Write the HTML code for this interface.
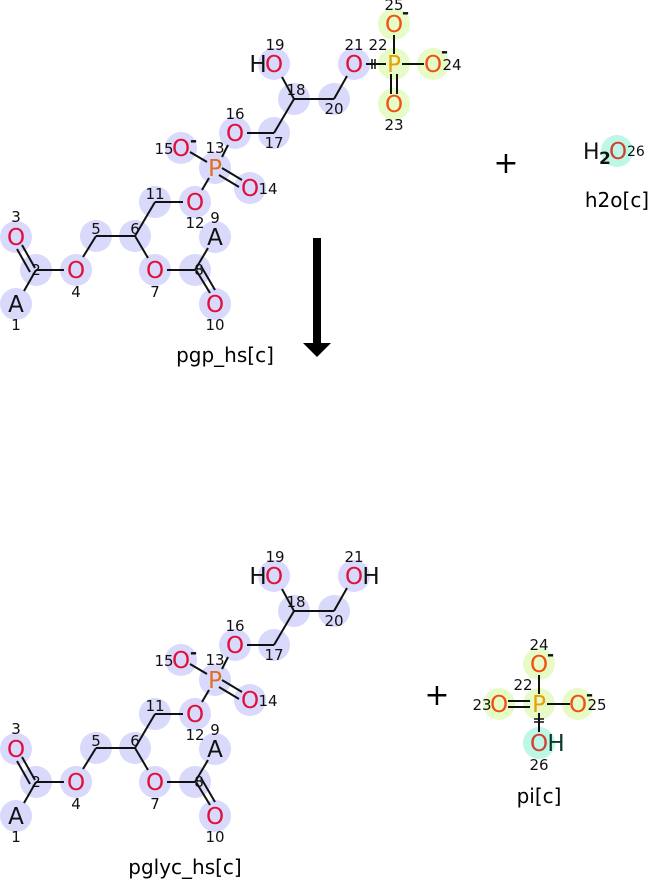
<!DOCTYPE html>
<html><head><meta charset="utf-8"><style>
html,body{margin:0;padding:0;background:#fff}
svg{display:block}
text{font-family:"DejaVu Sans","Liberation Sans",sans-serif}
.a{font-size:23px;text-anchor:middle}
.n{font-size:15px;text-anchor:middle;fill:#111}
.o{fill:#e0103a}.og{fill:#f05010}.p{fill:#e07020}.pg{fill:#e8a000}
.b{stroke:#111;stroke-width:2;fill:none}
.c{fill:#d8d9fb}.g{fill:#e6fbc6}.t{fill:#bdf7e6}
.lbl{font-size:20px;text-anchor:middle;fill:#000}
</style></head><body>
<svg width="648" height="879" viewBox="0 0 648 879" xmlns="http://www.w3.org/2000/svg">
<g id="top">
<g>
<circle class="c" cx="16" cy="304" r="16"/><circle class="c" cx="36" cy="270" r="16"/><circle class="c" cx="16" cy="237" r="16"/>
<circle class="c" cx="76" cy="270" r="16"/><circle class="c" cx="96" cy="236" r="16"/><circle class="c" cx="135" cy="236" r="16"/>
<circle class="c" cx="155" cy="270" r="16"/><circle class="c" cx="195" cy="270" r="16"/><circle class="c" cx="215" cy="237" r="16"/>
<circle class="c" cx="215" cy="304" r="16"/><circle class="c" cx="155" cy="202" r="16"/><circle class="c" cx="195" cy="202" r="16"/>
<circle class="c" cx="215" cy="168" r="16"/><circle class="c" cx="250" cy="188" r="16"/><circle class="c" cx="181" cy="148" r="16"/>
<circle class="c" cx="235" cy="133" r="16"/><circle class="c" cx="274" cy="133" r="16"/><circle class="c" cx="294" cy="99" r="16"/>
<circle class="c" cx="274" cy="64" r="16"/><circle class="c" cx="334" cy="99" r="16"/><circle class="c" cx="354" cy="64" r="16"/>
</g>
<g class="b">
<line x1="24" y1="291" x2="36" y2="270"/><line x1="36" y1="270" x2="64" y2="270"/>
<line x1="22" y1="245" x2="35" y2="268"/><line x1="17" y1="249" x2="30" y2="272"/>
<line x1="83" y1="257" x2="96" y2="236"/><line x1="96" y1="236" x2="135" y2="236"/>
<line x1="135" y1="236" x2="148" y2="258"/><line x1="135" y1="236" x2="155" y2="202"/>
<line x1="167" y1="270" x2="195" y2="270"/><line x1="195" y1="270" x2="208" y2="248"/>
<line x1="196" y1="270" x2="210" y2="293"/><line x1="201" y1="266" x2="215" y2="290"/>
<line x1="155" y1="202" x2="183" y2="202"/><line x1="202" y1="190" x2="209" y2="178"/>
<line x1="190" y1="152" x2="207" y2="162"/><line x1="222" y1="168" x2="242" y2="180"/><line x1="219" y1="175" x2="239" y2="187"/>
<line x1="222" y1="157" x2="228" y2="145"/><line x1="247" y1="133" x2="274" y2="133"/>
<line x1="274" y1="133" x2="294" y2="99"/><line x1="294" y1="99" x2="282" y2="77"/><line x1="294" y1="99" x2="334" y2="99"/>
<line x1="334" y1="99" x2="347" y2="76"/>
</g>
<text class="a" x="16" y="312" fill="#111">A</text><text class="a o" x="16" y="245">O</text>
<text class="a o" x="76" y="278">O</text><text class="a o" x="155" y="278">O</text>
<text class="a" x="215" y="245" fill="#111">A</text><text class="a o" x="215" y="312">O</text>
<text class="a o" x="195" y="210">O</text><text class="a p" x="215" y="176">P</text>
<text class="a o" x="250" y="196">O</text><text class="a o" x="181" y="156">O</text>
<text class="a o" x="235" y="141">O</text>
<text class="n" x="16" y="222">3</text><text class="n" x="16" y="330">1</text><text class="n" x="36" y="275">2</text>
<text class="n" x="76" y="297">4</text><text class="n" x="96" y="234">5</text><text class="n" x="135" y="234">6</text>
<text class="n" x="155" y="297">7</text><text class="n" x="199" y="275">8</text><text class="n" x="215" y="223">9</text>
<text class="n" x="215" y="330">10</text><text class="n" x="155" y="199">11</text><text class="n" x="195" y="228">12</text>
<text class="n" x="215" y="153">13</text><text class="n" x="268" y="194">14</text><text class="n" x="164" y="154">15</text>
<text class="n" x="235" y="119">16</text><text class="n" x="274" y="148">17</text><text class="n" x="296" y="95">18</text>
<text class="n" x="275" y="50">19</text><text class="n" x="334" y="114">20</text><text class="n" x="354" y="50">21</text>
<text x="190" y="146" style="font-size:17px;font-weight:bold" fill="#111">-</text>
</g>
<text class="a" x="258" y="72" fill="#111">H</text><text class="a o" x="274" y="72">O</text>
<text class="a o" x="354" y="72">O</text>
<circle class="g" cx="394" cy="64" r="16"/><circle class="g" cx="394" cy="104" r="16"/><circle class="g" cx="433" cy="64" r="16"/><circle class="g" cx="394" cy="24" r="16"/>
<g class="b">
<line x1="366" y1="64" x2="386" y2="64"/><line x1="372" y1="59" x2="372" y2="69" stroke-width="1.5"/><line x1="375" y1="59" x2="375" y2="69" stroke-width="1.5"/>
<line x1="402" y1="64" x2="424" y2="64"/><line x1="394" y1="35" x2="394" y2="54"/>
<line x1="391" y1="74" x2="391" y2="94"/><line x1="397" y1="74" x2="397" y2="94"/>
</g>
<text class="a pg" x="394" y="72">P</text><text class="a og" x="394" y="112">O</text><text class="a og" x="433" y="72">O</text><text class="a og" x="394" y="32">O</text>
<text class="n" x="378" y="50">22</text><text class="n" x="394" y="130">23</text><text class="n" x="452" y="70">24</text><text class="n" x="394" y="10">25</text>
<text x="402" y="18" style="font-size:17px;font-weight:bold" fill="#111">-</text>
<text x="441" y="57" style="font-size:17px;font-weight:bold" fill="#111">-</text>
<text class="lbl" x="225" y="362">pgp_hs[c]</text>
<text x="506" y="173" style="font-size:30px;text-anchor:middle" fill="#000">+</text>
<circle class="t" cx="617" cy="151" r="16"/>
<text x="583" y="159" style="font-size:22px" fill="#111">H</text><text x="599" y="164" style="font-size:17px;font-weight:bold" fill="#111">2</text>
<text class="a" x="618" y="159" fill="#d04030">O</text><text x="627" y="156" style="font-size:14px" fill="#111">26</text>
<text class="lbl" x="617" y="207">h2o[c]</text>
<rect x="313" y="238" width="8" height="107" fill="#000"/>
<polygon points="303,343 331,343 317,357" fill="#000"/>
<g transform="translate(0,512)">
<g>
<circle class="c" cx="16" cy="304" r="16"/><circle class="c" cx="36" cy="270" r="16"/><circle class="c" cx="16" cy="237" r="16"/>
<circle class="c" cx="76" cy="270" r="16"/><circle class="c" cx="96" cy="236" r="16"/><circle class="c" cx="135" cy="236" r="16"/>
<circle class="c" cx="155" cy="270" r="16"/><circle class="c" cx="195" cy="270" r="16"/><circle class="c" cx="215" cy="237" r="16"/>
<circle class="c" cx="215" cy="304" r="16"/><circle class="c" cx="155" cy="202" r="16"/><circle class="c" cx="195" cy="202" r="16"/>
<circle class="c" cx="215" cy="168" r="16"/><circle class="c" cx="250" cy="188" r="16"/><circle class="c" cx="181" cy="148" r="16"/>
<circle class="c" cx="235" cy="133" r="16"/><circle class="c" cx="274" cy="133" r="16"/><circle class="c" cx="294" cy="99" r="16"/>
<circle class="c" cx="274" cy="64" r="16"/><circle class="c" cx="334" cy="99" r="16"/><circle class="c" cx="354" cy="64" r="16"/>
</g>
<g class="b">
<line x1="24" y1="291" x2="36" y2="270"/><line x1="36" y1="270" x2="64" y2="270"/>
<line x1="22" y1="245" x2="35" y2="268"/><line x1="17" y1="249" x2="30" y2="272"/>
<line x1="83" y1="257" x2="96" y2="236"/><line x1="96" y1="236" x2="135" y2="236"/>
<line x1="135" y1="236" x2="148" y2="258"/><line x1="135" y1="236" x2="155" y2="202"/>
<line x1="167" y1="270" x2="195" y2="270"/><line x1="195" y1="270" x2="208" y2="248"/>
<line x1="196" y1="270" x2="210" y2="293"/><line x1="201" y1="266" x2="215" y2="290"/>
<line x1="155" y1="202" x2="183" y2="202"/><line x1="202" y1="190" x2="209" y2="178"/>
<line x1="190" y1="152" x2="207" y2="162"/><line x1="222" y1="168" x2="242" y2="180"/><line x1="219" y1="175" x2="239" y2="187"/>
<line x1="222" y1="157" x2="228" y2="145"/><line x1="247" y1="133" x2="274" y2="133"/>
<line x1="274" y1="133" x2="294" y2="99"/><line x1="294" y1="99" x2="282" y2="77"/><line x1="294" y1="99" x2="334" y2="99"/>
<line x1="334" y1="99" x2="347" y2="76"/>
</g>
<text class="a" x="16" y="312" fill="#111">A</text><text class="a o" x="16" y="245">O</text>
<text class="a o" x="76" y="278">O</text><text class="a o" x="155" y="278">O</text>
<text class="a" x="215" y="245" fill="#111">A</text><text class="a o" x="215" y="312">O</text>
<text class="a o" x="195" y="210">O</text><text class="a p" x="215" y="176">P</text>
<text class="a o" x="250" y="196">O</text><text class="a o" x="181" y="156">O</text>
<text class="a o" x="235" y="141">O</text>
<text class="n" x="16" y="222">3</text><text class="n" x="16" y="330">1</text><text class="n" x="36" y="275">2</text>
<text class="n" x="76" y="297">4</text><text class="n" x="96" y="234">5</text><text class="n" x="135" y="234">6</text>
<text class="n" x="155" y="297">7</text><text class="n" x="199" y="275">8</text><text class="n" x="215" y="223">9</text>
<text class="n" x="215" y="330">10</text><text class="n" x="155" y="199">11</text><text class="n" x="195" y="228">12</text>
<text class="n" x="215" y="153">13</text><text class="n" x="268" y="194">14</text><text class="n" x="164" y="154">15</text>
<text class="n" x="235" y="119">16</text><text class="n" x="274" y="148">17</text><text class="n" x="296" y="95">18</text>
<text class="n" x="275" y="50">19</text><text class="n" x="334" y="114">20</text><text class="n" x="354" y="50">21</text>
<text x="190" y="146" style="font-size:17px;font-weight:bold" fill="#111">-</text>
<text class="a" x="258" y="72" fill="#111">H</text><text class="a o" x="274" y="72">O</text>
<text class="a o" x="354" y="72">O</text><text class="a" x="371" y="72" fill="#111">H</text>
</g>
<text class="lbl" x="185" y="874">pglyc_hs[c]</text>
<text x="437" y="705" style="font-size:30px;text-anchor:middle" fill="#000">+</text>
<circle class="g" cx="539" cy="704" r="16"/><circle class="g" cx="539" cy="664" r="16"/><circle class="g" cx="499" cy="704" r="16"/><circle class="g" cx="578" cy="704" r="16"/>
<circle class="t" cx="539" cy="743" r="16"/>
<g class="b">
<line x1="539" y1="675" x2="539" y2="694"/><line x1="547" y1="704" x2="570" y2="704"/>
<line x1="508" y1="701" x2="530" y2="701"/><line x1="508" y1="707" x2="530" y2="707"/>
<line x1="539" y1="713" x2="539" y2="732"/><line x1="534" y1="719" x2="544" y2="719" stroke-width="1.5"/><line x1="534" y1="722" x2="544" y2="722" stroke-width="1.5"/>
</g>
<text class="a pg" x="539" y="712">P</text><text class="a og" x="539" y="672">O</text><text class="a og" x="499" y="712">O</text><text class="a og" x="578" y="712">O</text>
<text class="a" x="539" y="751" fill="#d04030">O</text><text class="a" x="556" y="751" fill="#0a3a2a">H</text>
<text class="n" x="539" y="650">24</text><text class="n" x="523" y="690">22</text><text class="n" x="482" y="710">23</text><text class="n" x="597" y="710">25</text><text class="n" x="539" y="770">26</text>
<text x="547" y="660" style="font-size:17px;font-weight:bold" fill="#111">-</text>
<text x="586" y="700" style="font-size:17px;font-weight:bold" fill="#111">-</text>
<text class="lbl" x="539" y="803">pi[c]</text>
</svg>
</body></html>
